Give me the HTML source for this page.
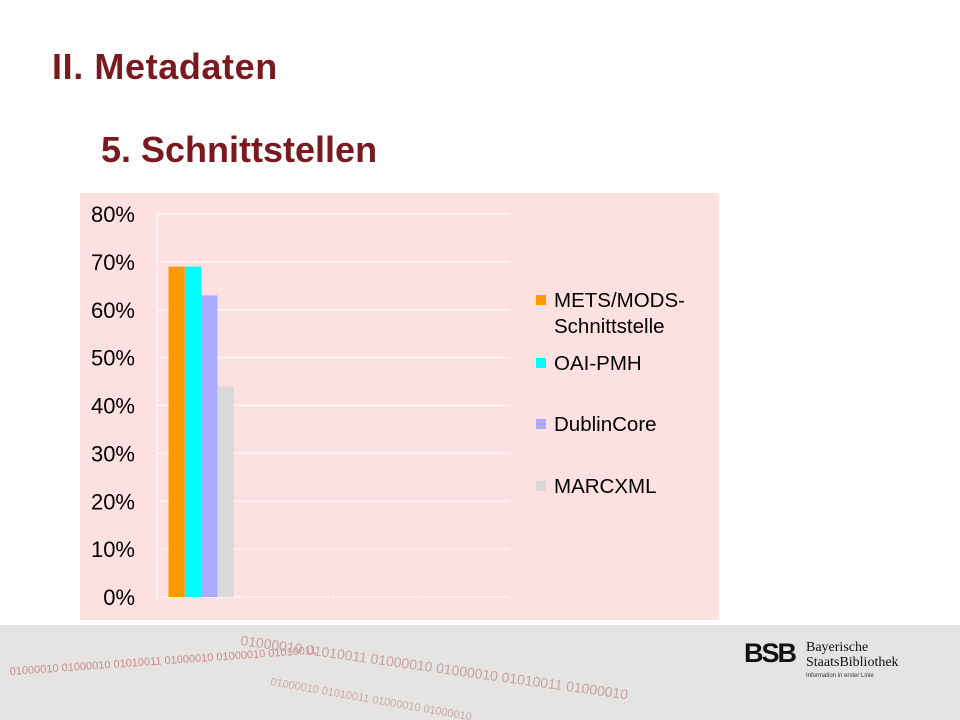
<!DOCTYPE html>
<html><head><meta charset="utf-8"><style>
body{margin:0;width:960px;height:720px;background:#fff;position:relative;overflow:hidden;font-family:"Liberation Sans",sans-serif}
.t{position:absolute;color:#7a1a1f;font-weight:bold}
</style></head><body>
<div class="t" style="left:52px;top:46px;font-size:36px;letter-spacing:0.6px">II. Metadaten</div>
<div class="t" style="left:101px;top:129px;font-size:36px">5. Schnittstellen</div>
<div style="position:absolute;left:0;top:625px;width:960px;height:95px;background:#e5e4e2"></div>
<svg style="position:absolute;left:0;top:625px" width="960" height="95">
<text x="10" y="50" font-size="11" fill="#c88" font-family="Liberation Sans" transform="rotate(-4 10 50)">01000010 01000010 01010011 01000010 01000010 01010011</text>
<text x="240" y="20" font-size="14" fill="#c9a0a0" font-family="Liberation Sans" transform="rotate(8 240 20)">01000010 01010011 01000010 01000010 01010011 01000010</text>
<text x="270" y="60" font-size="11" fill="#caa" font-family="Liberation Sans" transform="rotate(10 270 60)">01000010 01010011 01000010 01000010</text>
</svg>
<div style="position:absolute;left:744px;top:638px;font-size:27px;font-weight:bold;letter-spacing:-2px;color:#111">BSB</div>
<div style="position:absolute;left:806px;top:640px;font-size:14px;line-height:15px;color:#111;font-family:'Liberation Serif',serif">Bayerische<br>StaatsBibliothek</div>
<div style="position:absolute;left:806px;top:673px;font-size:6px;color:#333">Information in erster Linie</div>
<svg style="position:absolute;left:0;top:0" width="960" height="720">
<rect x="80" y="193" width="639" height="427" fill="#fde0e0"/>
<g id="g"></g>
</svg>
<script>
const ticks=["0%","10%","20%","30%","40%","50%","60%","70%","80%"];
const series=["METS/MODS-Schnittstelle","OAI-PMH","DublinCore","MARCXML"];
const values=[69,69,63,44];
const categories=["1","2","3","4"];
const colors=["#ff9900","#00ffff","#aaaaff","#d9d9d9"];
const g=document.getElementById('g');const NS="http://www.w3.org/2000/svg";
const x0=157,x1=510,y0=597,y1=214,ymax=80;
const y=v=>y0-(v/ymax)*(y0-y1);
const cw=(x1-x0)/categories.length;
function mk(t,a){const e=document.createElementNS(NS,t);for(const k in a)e.setAttribute(k,a[k]);g.appendChild(e);return e;}
ticks.forEach((t,i)=>{const v=i*10;
const l=mk('line',{x1:x0,x2:x1,y1:y(v),y2:y(v),stroke:'#fff','stroke-width':1});


const tx=mk('text',{x:135,y:y(v)+8,'text-anchor':'end','font-size':22,fill:'#000','font-family':'Liberation Sans'});
tx.textContent=t;

});
mk('line',{x1:x0,x2:x0,y1:y1,y2:y0+5,stroke:'#fff'});
for(let i=0;i<=categories.length;i++){const l=mk('line',{x1:x0+i*cw,x2:x0+i*cw,y1:y0,y2:y0+5,stroke:'#fff'});

}
const bw=16.3,start=x0+cw/2-bw*values.length/2;
values.forEach((v,i)=>{const r=mk('rect',{x:start+i*bw,y:y(v),width:bw,height:y0-y(v),fill:colors[i]});

});
const ly=[301,364,425,487];
series.forEach((s,i)=>{const r=mk('rect',{x:536,y:ly[i]-6,width:10,height:10,fill:colors[i]});


const t=mk('text',{x:554,y:ly[i]+6,'font-size':20.5,fill:'#000','font-family':'Liberation Sans'});


if(i==0){t.innerHTML='<tspan x="554">METS/MODS-</tspan><tspan x="554" dy="26">Schnittstelle</tspan>';}else t.textContent=s;});
</script>
</body></html>
